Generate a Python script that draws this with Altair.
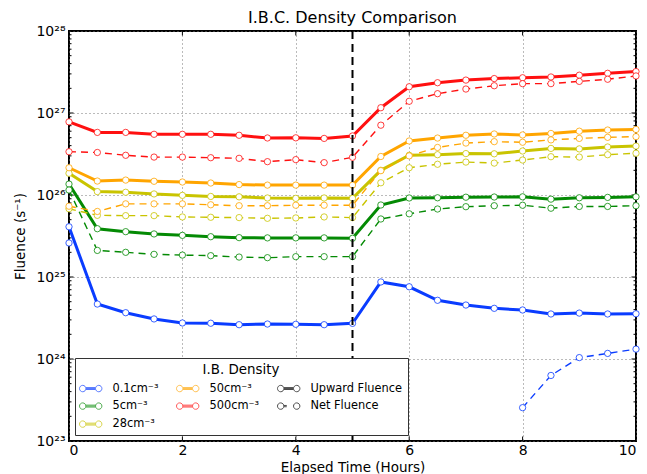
import altair as alt
import pandas as pd

# ---------------- data ----------------
hours = [0, 0.5, 1, 1.5, 2, 2.5, 3, 3.5, 4, 4.5, 5, 5.5, 6, 6.5, 7, 7.5, 8, 8.5, 9, 9.5, 10]

densities = ["0.1cm⁻³", "5cm⁻³", "28cm⁻³", "50cm⁻³", "500cm⁻³"]
kinds = ["Upward Fluence", "Net Fluence"]

up_01 = [4.1e25, 4.68e24, 3.67e24, 3.08e24, 2.75e24, 2.73e24, 2.62e24, 2.67e24, 2.65e24, 2.62e24, 2.72e24,
         8.7e24, 7.6e24, 5.2e24, 4.55e24, 4.15e24, 3.96e24, 3.54e24, 3.63e24, 3.54e24, 3.56e24]
net_01 = [2.6e25, None, None, None, None, None, None, None, None, None, None,
          None, None, None, None, None, 2.55e23, 6.3e23, 1.04e24, 1.17e24, 1.32e24]

up_5 = [1.36e26, 3.88e25, 3.57e25, 3.35e25, 3.22e25, 3.1e25, 3.02e25, 3.0e25, 3.0e25, 3.0e25, 2.97e25,
        7.55e25, 9.2e25, 9.25e25, 9.4e25, 9.45e25, 9.5e25, 8.9e25, 9.25e25, 9.35e25, 9.5e25]
net_5 = [1.15e26, 2.11e25, 2.0e25, 1.89e25, 1.85e25, 1.82e25, 1.75e25, 1.72e25, 1.77e25, 1.77e25, 1.77e25,
         5.1e25, 5.9e25, 6.75e25, 7.2e25, 7.4e25, 7.5e25, 6.9e25, 7.25e25, 7.25e25, 7.4e25]

up_28 = [1.84e26, 1.1e26, 1.08e26, 1.03e26, 9.9e25, 9.6e25, 9.5e25, 9.2e25, 9.1e25, 9.2e25, 9.1e25,
         2.0e26, 3.05e26, 3.1e26, 3.2e26, 3.18e26, 3.44e26, 3.7e26, 3.65e26, 3.85e26, 3.95e26]
net_28 = [6.8e25, 5.65e25, 5.6e25, 5.6e25, 5.4e25, 5.35e25, 5.3e25, 5.2e25, 5.25e25, 5.4e25, 5.3e25,
          1.41e26, 2.15e26, 2.37e26, 2.52e26, 2.45e26, 2.67e26, 2.93e26, 2.9e26, 3.1e26, 3.23e26]

up_50 = [2.15e26, 1.48e26, 1.52e26, 1.47e26, 1.44e26, 1.4e26, 1.34e26, 1.32e26, 1.32e26, 1.32e26, 1.32e26,
         2.95e26, 4.56e26, 4.95e26, 5.35e26, 5.55e26, 5.4e26, 5.63e26, 6.0e26, 6.2e26, 6.3e26]
net_50 = [7.3e25, 6.3e25, 7.8e25, 7.8e25, 7.8e25, 7.6e25, 7.4e25, 7.4e25, 7.5e25, 7.5e25, 7.5e25,
          1.98e26, 3.0e26, 3.8e26, 4.3e26, 4.47e26, 4.4e26, 4.7e26, 4.9e26, 5.05e26, 5.15e26]

up_500 = [7.8e26, 5.8e26, 5.8e26, 5.5e26, 5.5e26, 5.5e26, 5.35e26, 4.96e26, 4.98e26, 4.9e26, 5.25e26,
          1.16e27, 2.09e27, 2.34e27, 2.52e27, 2.63e27, 2.69e27, 2.75e27, 2.89e27, 3.05e27, 3.2e27]
net_500 = [3.37e26, 3.3e26, 3.05e26, 2.9e26, 2.9e26, 2.85e26, 2.8e26, 2.55e26, 2.7e26, 2.48e26, 2.88e26,
           7.1e26, 1.39e27, 1.72e27, 1.96e27, 2.15e27, 2.28e27, 2.28e27, 2.43e27, 2.58e27, 2.83e27]

event_hour = [5]

y_major = [1e23, 1e24, 1e25, 1e26, 1e27, 1e28]
y_minor = [k * 10.0 ** e for e in range(23, 28) for k in range(2, 10)]
x_major = [0, 2, 4, 6, 8, 10]

# ---------------- styling ----------------
W, H = 567, 410
FONT = "DejaVu Sans"
series_colors = {"0.1cm⁻³": "#0a3cff", "5cm⁻³": "#048a04", "28cm⁻³": "#c9c400",
                 "50cm⁻³": "#ffa500", "500cm⁻³": "#ff1010"}

# legend entries in row-major order for a 3-column legend
legend_labels = ["0.1cm⁻³", "50cm⁻³", "Upward Fluence", "5cm⁻³", "500cm⁻³", "Net Fluence", "28cm⁻³"]
legend_keys = [f"k{i}" for i in range(len(legend_labels))]
key_of = dict(zip(legend_labels, legend_keys))
legend_range = [series_colors.get(d, "black") for d in legend_labels]

circ = ("M -1.5,0 A 1,1 0 1,0 -3.5,0 A 1,1 0 1,0 -1.5,0 Z "
        "M 3.5,0 A 1,1 0 1,0 1.5,0 A 1,1 0 1,0 3.5,0 Z ")
solid_glyph = circ + "M -1.5,-0.3 L 1.5,-0.3 M -1.5,0 L 1.5,0 M -1.5,0.3 L 1.5,0.3"
net_glyph = circ + "M -1.5,-0.2 L -0.6,-0.2 M -1.5,0.2 L -0.6,0.2"
shape_range = [net_glyph if d == "Net Fluence" else solid_glyph for d in legend_labels]

# ---------------- table ----------------
rows = []
series = [(densities[0], up_01, net_01), (densities[1], up_5, net_5), (densities[2], up_28, net_28),
          (densities[3], up_50, net_50), (densities[4], up_500, net_500)]
for dens, up, net in series:
    for kind, vals in (("up", up), ("net", net)):
        seg = 0
        for t, v in zip(hours, vals):
            if v is None:
                seg += 1
                continue
            rows.append({"t": t, "value": v, "key": key_of[dens], "kind": kind,
                         "line": f"{dens}-{kind}-{seg}"})
df = pd.DataFrame(rows)

xscale = alt.Scale(domain=[0, 10], nice=False, zero=False)
yscale = alt.Scale(type="log", domain=[1e23, 1e28], nice=False)
cscale = alt.Scale(domain=legend_keys, range=legend_range)
sscale = alt.Scale(domain=legend_keys, range=shape_range)

sup = str.maketrans("0123456789", "⁰¹²³⁴⁵⁶⁷⁸⁹")
label_expr = " : ".join(
    f"datum.value < {3 * 10.0 ** e:.0e} ? '10{str(e).translate(sup)}'" for e in range(23, 28)
) + " : '10²⁸'"
legend_label_expr = " : ".join(
    f"datum.value == '{k}' ? '{l}'" for k, l in zip(legend_keys, legend_labels)
) + " : ''"

x_enc = alt.X("t:Q", scale=xscale, axis=alt.Axis(
    values=x_major, title="Elapsed Time (Hours)", grid=True, ticks=False, domain=False,
    labelPadding=2, titlePadding=3, format="d"))
y_enc = alt.Y("value:Q", scale=yscale, axis=alt.Axis(
    values=y_major, title="Fluence (s⁻¹)", grid=True, ticks=False, domain=False,
    labelExpr=label_expr, labelPadding=4, titlePadding=8))

legend = alt.Legend(
    title="I.B. Density", orient="none", legendX=6, legendY=327, columns=3,
    direction="horizontal",
    values=legend_keys, labelExpr=legend_label_expr,
    titleAnchor="middle", titleFont=FONT, titleFontSize=13.4, titleFontWeight="normal",
    titleColor="black", titlePadding=6,
    labelFont=FONT, labelFontSize=11.4, labelColor="black",
    fillColor="white", strokeColor="#333333", padding=5,
    symbolSize=41, symbolStrokeWidth=1, symbolOffset=5, labelOffset=16,
    columnPadding=15, rowPadding=5, symbolFillColor="white")
c_enc = alt.Color("key:N", scale=cscale, legend=legend)
s_enc = alt.Shape("key:N", scale=sscale, legend=legend)

base = alt.Chart(df)

legend_layer = base.transform_filter("false").mark_point(filled=False).encode(
    color=c_enc, shape=s_enc)
up_lines = base.transform_filter(alt.datum.kind == "up").mark_line(strokeWidth=3).encode(
    x=x_enc, y=y_enc, color=c_enc, detail="line:N")
net_lines = base.transform_filter(alt.datum.kind == "net").mark_line(
    strokeWidth=1.4, strokeDash=[7, 5]).encode(x=x_enc, y=y_enc, color=c_enc, detail="line:N")
points = base.mark_point(shape="circle", filled=False, fill="white", fillOpacity=1,
                         size=40, strokeWidth=1, strokeOpacity=0.8).encode(
    x=x_enc, y=y_enc, color=c_enc)

event = alt.Chart(pd.DataFrame({"t": event_hour})).mark_rule(
    color="black", strokeWidth=2, strokeDash=[8, 5]).encode(x=alt.X("t:Q", scale=xscale))

ymaj = pd.DataFrame({"v": y_major})
ymin = pd.DataFrame({"v": y_minor})
xmaj = pd.DataFrame({"v": x_major})
tick_style = dict(color="black", strokeWidth=1)
yv = alt.Y("v:Q", scale=yscale)
xv = alt.X("v:Q", scale=xscale)
ticks = [
    alt.Chart(ymaj).mark_rule(**tick_style).encode(y=yv, x=alt.value(0), x2=alt.value(4.5)),
    alt.Chart(ymaj).mark_rule(**tick_style).encode(y=yv, x=alt.value(W - 4.5), x2=alt.value(W)),
    alt.Chart(ymin).mark_rule(**tick_style).encode(y=yv, x=alt.value(0), x2=alt.value(2.5)),
    alt.Chart(ymin).mark_rule(**tick_style).encode(y=yv, x=alt.value(W - 2.5), x2=alt.value(W)),
    alt.Chart(xmaj).mark_rule(**tick_style).encode(x=xv, y=alt.value(H - 4.5), y2=alt.value(H)),
    alt.Chart(xmaj).mark_rule(**tick_style).encode(x=xv, y=alt.value(0), y2=alt.value(4.5)),
]

chart = alt.layer(
    legend_layer, *ticks, up_lines, net_lines, points, event
).properties(
    width=W, height=H,
    background="white",
    title=alt.TitleParams("I.B.C. Density Comparison", font=FONT, fontSize=16,
                          fontWeight="normal", color="black", anchor="middle", offset=6, dy=8),
    autosize=alt.AutoSizeParams(type="none"),
    padding={"left": 69, "top": 31, "right": 11, "bottom": 33},
).configure_view(
    stroke="black", strokeWidth=2
).configure_axis(
    labelFont=FONT, labelFontSize=14, labelColor="black",
    titleFont=FONT, titleFontSize=13.5, titleFontWeight="normal", titleColor="black",
    gridColor="#777777", gridDash=[1, 3], gridWidth=1, gridOpacity=1,
)

chart.save("out.html", embed_options={"renderer": "svg", "actions": False})
